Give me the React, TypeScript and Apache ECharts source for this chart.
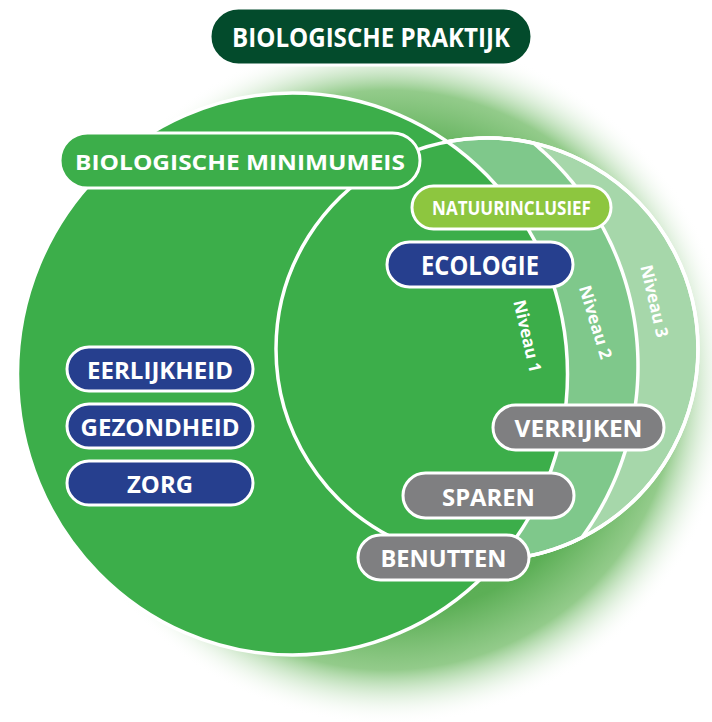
import React, { useEffect, useRef } from 'react';
import * as echarts from 'echarts';

// ---- content ----
const titleLabel = 'BIOLOGISCHE PRAKTIJK';
const baseLabel = 'BIOLOGISCHE MINIMUMEIS';
const extraLabel = 'NATUURINCLUSIEF';
const ecologyLabel = 'ECOLOGIE';
const principleLabels = ['EERLIJKHEID', 'GEZONDHEID', 'ZORG'];
const actionLabels = ['VERRIJKEN', 'SPAREN', 'BENUTTEN'];
const levelLabels = ['Niveau 1', 'Niveau 2', 'Niveau 3'];

// ---- layout (pixels) ----
const FAMILY = '"Open Sans", "Noto Sans", sans-serif';
const W = 712;
const H = 722;
const mainEllipse = { cx: 292.5, cy: 374, rx: 275, ry: 281 };
const level3Circle = { cx: 487, cy: 349, r: 211 };
const level2Circle = { cx: 348, cy: 366, r: 290 };
const glow = { cx: 388, cy: 380, r: 345 };

const principleBox = { x: 67, w: 186, h: 44, ys: [347, 404, 461], textW: [146, 159, 66], fs: 24 };
const actionBox = { xs: [493, 403, 358], ys: [405, 473, 535], w: 171, h: 45, textW: [128, 93, 126], fs: 24 };
const levelPos = [
  { x: 528, y: 336, a: 77, w: 74 },
  { x: 596, y: 322, a: 73, w: 76 },
  { x: 655, y: 301, a: 77, w: 74 },
];

const C = {
  title: '#034b2c',
  main: '#3cae4a',
  lvl2: '#7fc88b',
  lvl3: '#a6d7aa',
  lime: '#8dc63f',
  navy: '#263f8e',
  gray: '#7f7f81',
  white: '#ffffff',
};

let measureCtx: CanvasRenderingContext2D | null = null;
function scaleFor(text: string, fs: number, target: number): number {
  if (!measureCtx) measureCtx = document.createElement('canvas').getContext('2d');
  if (!measureCtx) return 1;
  measureCtx.font = `bold ${fs}px ${FAMILY}`;
  const w = measureCtx.measureText(text).width;
  return w > 0 ? target / w : 1;
}

function label(text: string, x: number, y: number, fs: number, target: number, rotationDeg = 0) {
  const s = scaleFor(text, fs, target);
  return {
    type: 'text',
    x,
    y,
    scaleX: s,
    rotation: (-rotationDeg * Math.PI) / 180,
    z: 20,
    style: {
      text,
      fill: C.white,
      fontSize: fs,
      fontWeight: 'bold',
      fontFamily: FAMILY,
      textAlign: 'center',
      textVerticalAlign: 'middle',
      align: 'center',
      verticalAlign: 'middle',
    },
  };
}

function pill(x: number, y: number, w: number, h: number, fill: string, text: string, fs: number, textW: number) {
  return [
    {
      type: 'rect',
      z: 15,
      shape: { x, y, width: w, height: h, r: h / 2 },
      style: { fill, stroke: C.white, lineWidth: 3 },
    },
    label(text, x + w / 2, y + h / 2 + 0.5, fs, textW),
  ];
}

// intersection region of two circles as a polygon
function lens(a: { cx: number; cy: number; r: number }, b: { cx: number; cy: number; r: number }, n = 160) {
  const dx = b.cx - a.cx;
  const dy = b.cy - a.cy;
  const d = Math.hypot(dx, dy);
  const th = Math.atan2(dy, dx);
  const p = (d * d + a.r * a.r - b.r * b.r) / (2 * d);
  const a1 = Math.acos(p / a.r);
  const a2 = Math.acos((d - p) / b.r);
  const pts: number[][] = [];
  for (let i = 0; i <= n; i++) {
    const t = th - a1 + (2 * a1 * i) / n;
    pts.push([a.cx + a.r * Math.cos(t), a.cy + a.r * Math.sin(t)]);
  }
  for (let i = 0; i <= n; i++) {
    const t = th + Math.PI - a2 + (2 * a2 * i) / n;
    pts.push([b.cx + b.r * Math.cos(t), b.cy + b.r * Math.sin(t)]);
  }
  return pts;
}

export default function App() {
  const ref = useRef<HTMLDivElement>(null);
  useEffect(() => {
    if (!ref.current) return;
    const chart = echarts.init(ref.current, undefined, { renderer: 'svg', width: W, height: H });
    const elements: any[] = [];

    // soft glow behind everything
    elements.push({
      type: 'circle',
      z: 1,
      shape: { cx: glow.cx, cy: glow.cy, r: glow.r },
      style: {
        fill: {
          type: 'radial',
          x: 0.5,
          y: 0.5,
          r: 0.5,
          colorStops: [
            { offset: 0, color: 'rgba(84,170,80,1)' },
            { offset: 0.68, color: 'rgba(92,175,86,1)' },
            { offset: 0.84, color: 'rgba(128,194,118,0.85)' },
            { offset: 1, color: 'rgba(255,255,255,0)' },
          ],
        },
      },
    });

    // niveau 3 circle
    elements.push({
      type: 'circle',
      z: 3,
      shape: { cx: level3Circle.cx, cy: level3Circle.cy, r: level3Circle.r },
      style: { fill: C.lvl3, stroke: C.white, lineWidth: 3.5 },
    });
    // niveau 2 region
    elements.push({
      type: 'polygon',
      z: 4,
      shape: { points: lens(level2Circle, level3Circle) },
      style: { fill: C.lvl2, stroke: C.white, lineWidth: 3.5, lineJoin: 'round' },
    });
    // main circle (biologische minimumeis)
    elements.push({
      type: 'ellipse',
      z: 5,
      shape: { cx: mainEllipse.cx, cy: mainEllipse.cy, rx: mainEllipse.rx, ry: mainEllipse.ry },
      style: { fill: C.main, stroke: C.white, lineWidth: 3.5 },
    });
    // niveau 1 outline inside main circle
    elements.push({
      type: 'circle',
      z: 6,
      shape: { cx: level3Circle.cx, cy: level3Circle.cy, r: level3Circle.r },
      style: { fill: 'none', stroke: C.white, lineWidth: 3.5 },
    });

    // title + boxes
    elements.push(...pill(210, 8, 322, 57, C.title, titleLabel, 26, 278));
    elements.push(...pill(60, 133, 360, 55, C.main, baseLabel, 22, 330));
    elements.push(...pill(412, 186, 199, 43, C.lime, extraLabel, 19, 159));
    elements.push(...pill(387, 242, 186, 45, C.navy, ecologyLabel, 26, 118));
    principleLabels.forEach((t, i) => {
      elements.push(
        ...pill(principleBox.x, principleBox.ys[i], principleBox.w, principleBox.h, C.navy, t, principleBox.fs, principleBox.textW[i])
      );
    });
    actionLabels.forEach((t, i) => {
      elements.push(
        ...pill(actionBox.xs[i], actionBox.ys[i], actionBox.w, actionBox.h, C.gray, t, actionBox.fs, actionBox.textW[i])
      );
    });
    levelLabels.forEach((t, i) => {
      const p = levelPos[i];
      elements.push(label(t, p.x, p.y, 17, p.w, p.a));
    });

    chart.setOption({
      animation: false,
      backgroundColor: '#ffffff',
      graphic: { elements },
    });
    return () => chart.dispose();
  }, []);
  return (
    <div
      ref={ref}
      style={{ position: 'fixed', left: 0, top: 0, width: W, height: H, background: '#fff' }}
    />
  );
}
